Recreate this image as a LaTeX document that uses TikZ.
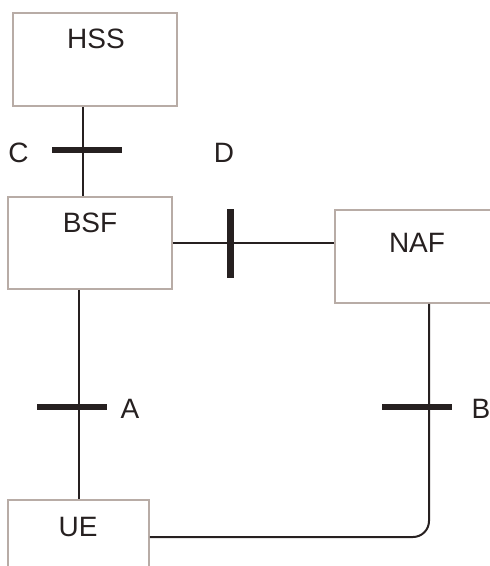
\documentclass[tikz,border=0pt]{standalone}
\usepackage{fontspec}
\setmainfont{Liberation Sans}
\definecolor{boxc}{RGB}{184,172,166}
\definecolor{inkc}{RGB}{38,32,32}
\begin{document}
\begin{tikzpicture}[x=1pt,y=-1pt,
  box/.style={draw=boxc, line width=1.6pt, fill=none, inner sep=0pt},
  lbl/.style={text=inkc, font=\fontsize{28}{30}\selectfont, inner sep=0pt},
  conn/.style={draw=inkc, line width=2pt},
  bar/.style={draw=inkc, line width=6.5pt}]
\useasboundingbox (0,0) rectangle (490,566);
% boxes
\node[box, minimum width=164pt, minimum height=93pt] (hss) at (95,59.5) {};
\node[box, minimum width=164pt, minimum height=92pt] (bsf) at (90,243) {};
\node[box, minimum width=170pt, minimum height=93pt] (naf) at (420,256.5) {};
\node[box, minimum width=141pt, minimum height=100pt] (ue) at (78.5,550) {};
% labels in boxes
\node[lbl] (hsst) at (96,39) {HSS};
\node[lbl] (bsft) at (90,223) {BSF};
\node[lbl] (naft) at (417,243) {NAF};
\node[lbl] (uet) at (78,527) {UE};
% reference coordinates
\coordinate (xc) at (83,0);
\coordinate (xa) at (79,0);
\coordinate (xb) at (429,0);
\coordinate (yd) at (0,243);
\coordinate (yu) at (0,537);
% connectors
\draw[conn] (hss.south -| xc) -- (bsf.north -| xc);
\draw[conn] (bsf.east |- yd) -- (naf.west |- yd);
\draw[conn] (bsf.south -| xa) -- (ue.north -| xa);
\draw[conn, rounded corners=16pt] (naf.south -| xb) -- (xb |- yu) -- (ue.east |- yu);
% interface bars
\coordinate (c1) at (52,150); \coordinate (c2) at (122,150);
\coordinate (d1) at (230.5,209); \coordinate (d2) at (230.5,278);
\coordinate (a1) at (37,407); \coordinate (a2) at (107,407);
\coordinate (b1) at (382,407); \coordinate (b2) at (452,407);
\draw[bar] (c1) -- (c2);
\draw[bar] (d1) -- (d2);
\draw[bar] (a1) -- (a2);
\draw[bar] (b1) -- (b2);
% interface labels
\node[lbl] (lc) at (18.5,153) {C};
\node[lbl] (ld) at (224,153) {D};
\node[lbl] (la) at (130,409) {A};
\node[lbl] (lb) at (481,409) {B};
\end{tikzpicture}
\end{document}
